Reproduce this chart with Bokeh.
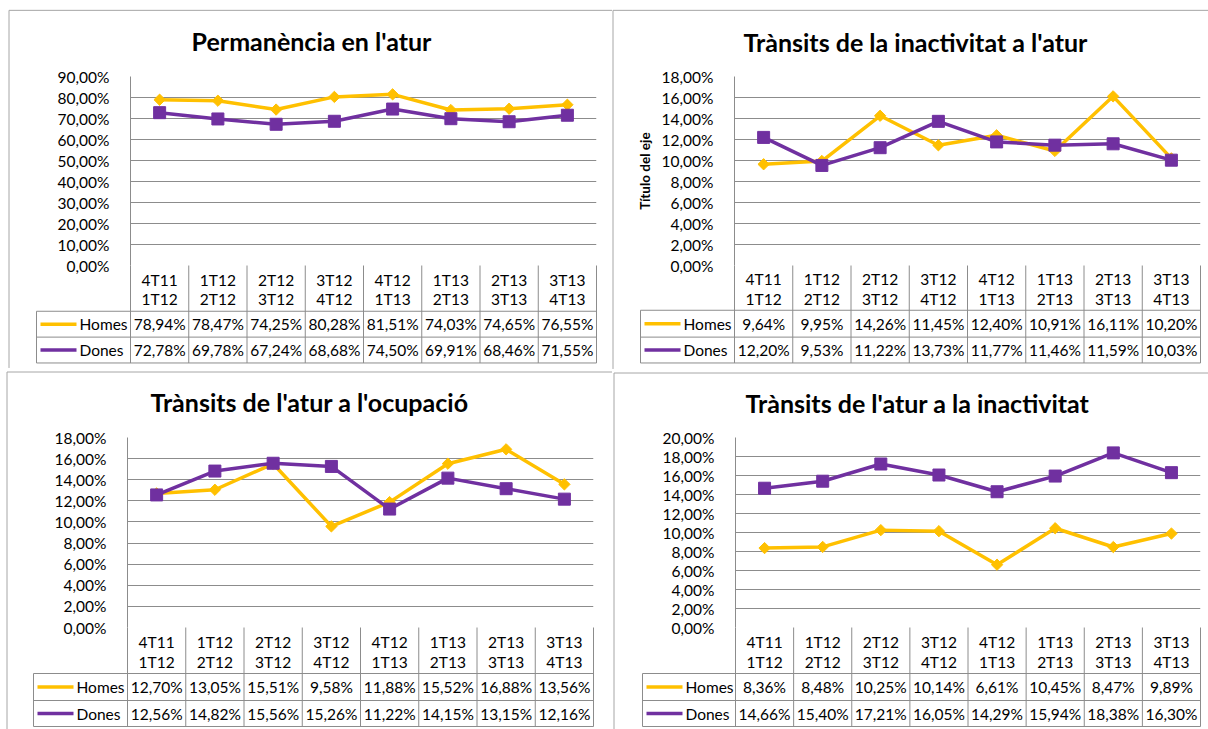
import math
from bokeh.plotting import figure
from bokeh.layouts import column, row
from bokeh.models import Range1d, FixedTicker
from bokeh.core.properties import value
from bokeh.embed import file_html
from bokeh.resources import INLINE

# ---------------- data ----------------
periods_from = ["4T11", "1T12", "2T12", "3T12", "4T12", "1T13", "2T13", "3T13"]
periods_to = ["1T12", "2T12", "3T12", "4T12", "1T13", "2T13", "3T13", "4T13"]
series_names = ["Homes", "Dones"]

title_perm = "Permanència en l'atur"
perm_homes = [78.94, 78.47, 74.25, 80.28, 81.51, 74.03, 74.65, 76.55]
perm_dones = [72.78, 69.78, 67.24, 68.68, 74.50, 69.91, 68.46, 71.55]

title_inact_atur = "Trànsits de la inactivitat a l'atur"
inact_atur_homes = [9.64, 9.95, 14.26, 11.45, 12.40, 10.91, 16.11, 10.20]
inact_atur_dones = [12.20, 9.53, 11.22, 13.73, 11.77, 11.46, 11.59, 10.03]

title_atur_ocup = "Trànsits de l'atur a l'ocupació"
atur_ocup_homes = [12.70, 13.05, 15.51, 9.58, 11.88, 15.52, 16.88, 13.56]
atur_ocup_dones = [12.56, 14.82, 15.56, 15.26, 11.22, 14.15, 13.15, 12.16]

title_atur_inact = "Trànsits de l'atur a la inactivitat"
atur_inact_homes = [8.36, 8.48, 10.25, 10.14, 6.61, 10.45, 8.47, 9.89]
atur_inact_dones = [14.66, 15.40, 17.21, 16.05, 14.29, 15.94, 18.38, 16.30]

# ---------------- style ----------------
FONT = "Lato"
C_H = "#FFC000"
C_D = "#7030A0"
GRID = "#8c8c8c"
BORDER = "#a6a6a6"
TXT_SIZE = "15.5px"


def pct(v):
    return f"{v:.2f}".replace(".", ",") + "%"


def panel(title, homes, dones, ymax, step, g, axis_title=None):
    W, H, L, R, T, FH = g["W"], g["H"], g["L"], g["R"], g["T"], 190
    FW = R - L
    n = len(periods_from)
    p = figure(width=W, height=H, output_backend="svg", toolbar_location=None, tools="",
               x_range=Range1d(0, n), y_range=Range1d(0, ymax), x_axis_type=None,
               min_border_left=L, min_border_right=W - R, min_border_top=T,
               min_border_bottom=H - T - FH)
    p.outline_line_color = None
    p.background_fill_color = "white"
    p.border_fill_color = "white"

    ticks = list(range(0, ymax + 1, step))
    tk = FixedTicker(ticks=ticks)
    ax = p.yaxis[0]
    ax.ticker = tk
    ax.major_label_overrides = {t: pct(t) for t in ticks}
    ax.bounds = (0, ymax)
    ax.axis_line_color = GRID
    ax.major_tick_line_color = None
    ax.minor_tick_line_color = None
    ax.major_label_standoff = 15
    ax.major_label_text_font = FONT
    ax.major_label_text_font_size = TXT_SIZE
    ax.major_label_text_color = "black"
    if axis_title:
        ax.axis_label = axis_title
        ax.axis_label_text_font = FONT
        ax.axis_label_text_font_style = "bold"
        ax.axis_label_text_font_size = "13.5px"
        ax.axis_label_text_color = "black"
        ax.axis_label_standoff = 6
    p.ygrid.ticker = tk
    p.ygrid.grid_line_color = GRID
    p.xgrid.visible = False

    xs = [i + 0.5 for i in range(n)]
    p.line(xs, homes, color=C_H, line_width=3.5)
    p.scatter(xs, homes, marker="square", angle=math.pi / 4, size=8, color=C_H)
    p.line(xs, dones, color=C_D, line_width=3.5)
    p.scatter(xs, dones, marker="square", size=12, color=C_D)

    # pixel -> data helpers for the data table drawn under the plot area
    def X(px):
        return (px - L) / FW * n

    def Y(py):
        return ymax * (T + FH - py) / FH

    bot = T + FH
    hdr, hom, don, TL = g["hdr"], g["hom"], g["don"], g["TL"]
    colw = FW / n

    # table grid
    hx0 = [X(TL)] * 3
    hx1 = [X(R)] * 3
    hy = [Y(hdr), Y(hom), Y(don)]
    vx = [X(L + k * colw) for k in range(n + 1)] + [X(TL)]
    vy0 = [Y(bot)] * (n + 1) + [Y(hdr)]
    vy1 = [Y(don)] * (n + 2)
    p.segment(hx0, hy, hx1, hy, line_color=GRID, line_width=1, level="overlay")
    p.segment(vx, vy0, vx, vy1, line_color=GRID, line_width=1, level="overlay")

    # header (category labels)
    h1 = bot + (hdr - bot) * 0.31
    h2 = bot + (hdr - bot) * 0.74
    p.text(xs, [Y(h1)] * n, text=periods_from, text_font=value(FONT),
           text_font_size=TXT_SIZE, text_align="center", text_baseline="middle",
           text_color="black", level="overlay")
    p.text(xs, [Y(h2)] * n, text=periods_to, text_font=value(FONT),
           text_font_size=TXT_SIZE, text_align="center", text_baseline="middle",
           text_color="black", level="overlay")

    # value rows + legend keys
    for vals, top, btm, col, name, ang, sz in [
        (homes, hdr, hom, C_H, series_names[0], math.pi / 4, 7),
        (dones, hom, don, C_D, series_names[1], 0, 11),
    ]:
        yc = Y((top + btm) / 2)
        p.text(xs, [yc] * n, text=[pct(v) for v in vals], text_font=value(FONT),
               text_font_size=TXT_SIZE, text_align="center", text_baseline="middle",
               text_color="black", level="overlay")
        p.line([X(TL + 4), X(TL + 40)], [yc, yc], color=col, line_width=3.5, level="overlay")
        p.scatter([X(TL + 22)], [yc], marker="square", size=sz, angle=ang, color=col,
                  level="overlay")
        p.text([X(TL + 43)], [yc], text=[name], text_font=value(FONT),
               text_font_size=TXT_SIZE, text_align="left", text_baseline="middle",
               text_color="black", level="overlay")

    # chart title
    p.text([X(g["tx"])], [Y(g["ty"])], text=[title], text_font=value(FONT),
           text_font_size="25px", text_font_style="bold", text_align="center",
           text_baseline="middle", text_color="black", level="overlay")

    # chart border (left + top)
    bl, bt = g["bl"], g["bt"]
    p.segment([X(bl), X(bl)], [Y(bt), Y(bt)], [X(bl), X(W)], [Y(H), Y(bt)],
              line_color=BORDER, line_width=1, level="overlay")
    return p


g_tl = dict(W=612, H=369, L=130, R=596, T=76, hdr=312, hom=338, don=364, TL=36,
            tx=311, ty=40, bl=8.5, bt=9.5)
g_tr = dict(W=596, H=369, L=122, R=588, T=75, hdr=310, hom=337, don=363, TL=28,
            tx=303, ty=40, bl=0.5, bt=8.5)
g_bl = dict(W=612, H=360, L=127, R=593, T=68, hdr=304, hom=331, don=357, TL=33,
            tx=309, ty=32, bl=6.5, bt=2.5)
g_br = dict(W=596, H=360, L=123, R=588, T=68, hdr=304, hom=331, don=357, TL=30,
            tx=305, ty=33, bl=1.5, bt=3.5)

p1 = panel(title_perm, perm_homes, perm_dones, 90, 10, g_tl)
p2 = panel(title_inact_atur, inact_atur_homes, inact_atur_dones, 18, 2, g_tr,
           axis_title="Título del eje")
p3 = panel(title_atur_ocup, atur_ocup_homes, atur_ocup_dones, 18, 2, g_bl)
p4 = panel(title_atur_inact, atur_inact_homes, atur_inact_dones, 20, 2, g_br)

layout = column(row(p1, p2), row(p3, p4))
open("out.html", "w").write(file_html(layout, INLINE))
